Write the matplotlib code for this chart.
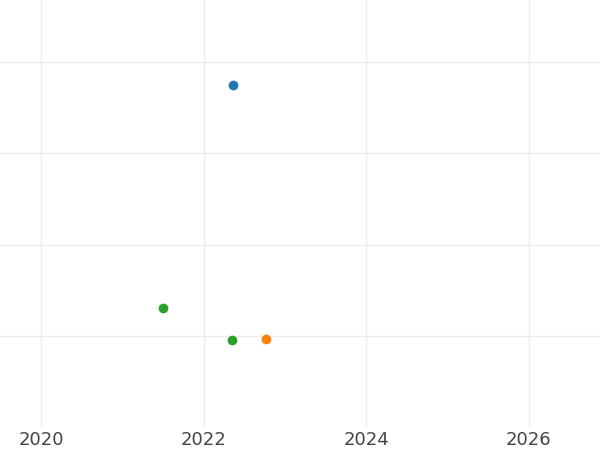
import matplotlib
matplotlib.use("Agg")
import matplotlib.pyplot as plt

# series: x = year, y = value (no y labels shown)
blue_x = [2022.36]
blue_y = [3.745]
orange_x = [2022.77]
orange_y = [0.965]
green_x = [2021.50, 2022.35]
green_y = [1.30, 0.95]

xticks = [2020, 2022, 2024, 2026]
yticks = [1, 2, 3, 4]

fig = plt.figure(figsize=(6, 4.5), dpi=100)
ax = fig.add_axes([0, 0.051, 1, 0.949])

ax.scatter(blue_x, blue_y, s=36, color="#1f77b4", zorder=3)
ax.scatter(orange_x, orange_y, s=36, color="#ff7f0e", zorder=3)
ax.scatter(green_x, green_y, s=36, color="#2ca02c", zorder=3)

ax.set_xlim(2019.495, 2026.88)
ax.set_ylim(0, 4.68)
ax.set_xticks(xticks)
ax.set_yticks(yticks)
ax.set_yticklabels([])
ax.grid(True, color="#ebebeb", linewidth=1)
ax.set_axisbelow(True)
ax.tick_params(length=0, labelsize=13, labelcolor="#444444", pad=3)
for s in ax.spines.values():
    s.set_visible(False)

fig.savefig("out.png", dpi=100)
